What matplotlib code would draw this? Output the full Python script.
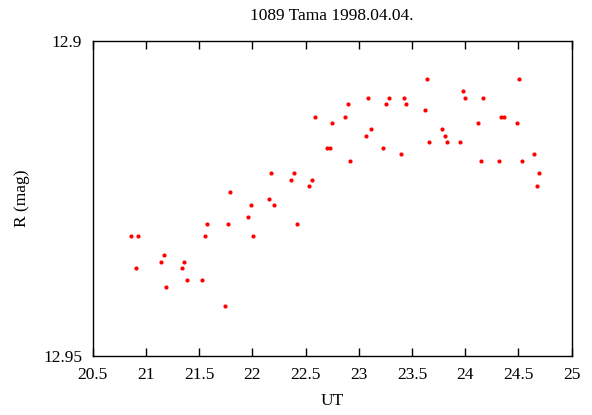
import matplotlib
matplotlib.use("Agg")
import matplotlib.pyplot as plt

ut = [20.857, 20.929, 20.904, 21.142, 21.167, 21.192, 21.336, 21.362, 21.383,
      21.527, 21.552, 21.574, 21.743, 21.768, 21.790, 21.959, 21.984, 22.006,
      22.153, 22.179, 22.200, 22.367, 22.391, 22.417, 22.536, 22.560, 22.586,
      22.701, 22.727, 22.752, 22.874, 22.896, 22.921, 23.065, 23.090, 23.112,
      23.231, 23.256, 23.281, 23.400, 23.425, 23.447, 23.619, 23.641, 23.663,
      23.785, 23.807, 23.832, 23.955, 23.976, 24.001, 24.120, 24.145, 24.171,
      24.314, 24.336, 24.361, 24.483, 24.505, 24.530, 24.650, 24.674, 24.697]
mag = [12.931, 12.931, 12.936, 12.935, 12.934, 12.939, 12.936, 12.935, 12.938,
       12.938, 12.931, 12.929, 12.942, 12.929, 12.924, 12.928, 12.926, 12.931,
       12.925, 12.921, 12.926, 12.922, 12.921, 12.929, 12.923, 12.922, 12.912,
       12.917, 12.917, 12.913, 12.912, 12.910, 12.919, 12.915, 12.909, 12.914,
       12.917, 12.910, 12.909, 12.918, 12.909, 12.910, 12.911, 12.906, 12.916,
       12.914, 12.915, 12.916, 12.916, 12.908, 12.909, 12.913, 12.919, 12.909,
       12.919, 12.912, 12.912, 12.913, 12.906, 12.919, 12.918, 12.923, 12.921]

xticks = [20.5, 21, 21.5, 22, 22.5, 23, 23.5, 24, 24.5, 25]
xticklabels = ["20.5", "21", "21.5", "22", "22.5", "23", "23.5", "24", "24.5", "25"]
yticks = [12.9, 12.95]
yticklabels = ["12.9", "12.95"]

plt.rcParams['font.family'] = ['Liberation Serif', 'DejaVu Serif']
plt.rcParams['font.size'] = 12.5

fig = plt.figure(figsize=(5.92, 4.15), dpi=100)
ax = fig.add_axes([92.7/592, 1-356/415, (571.7-92.7)/592, (356-41)/415])
ax.scatter(ut, mag, s=9, color='#ff0000', linewidths=0, zorder=3)
ax.set_xlim(20.5, 25)
ax.set_ylim(12.95, 12.9)
ax.set_xticks(xticks)
ax.set_xticklabels(xticklabels)
ax.set_yticks(yticks)
ax.set_yticklabels(yticklabels)
ax.tick_params(axis='x', direction='in', top=True, length=6, width=1, pad=8, labelsize=12.5)
ax.tick_params(axis='y', direction='in', length=0, pad=7.7, labelsize=12.5)
for s in ax.spines.values():
    s.set_linewidth(1)
ax.set_xlabel("UT", labelpad=7, fontsize=12.5)
ax.set_ylabel("R (mag)", labelpad=9.3, fontsize=12.5)
ax.set_title("1089 Tama 1998.04.04.", pad=15, fontsize=12.5)
fig.savefig("out.png", dpi=100)
